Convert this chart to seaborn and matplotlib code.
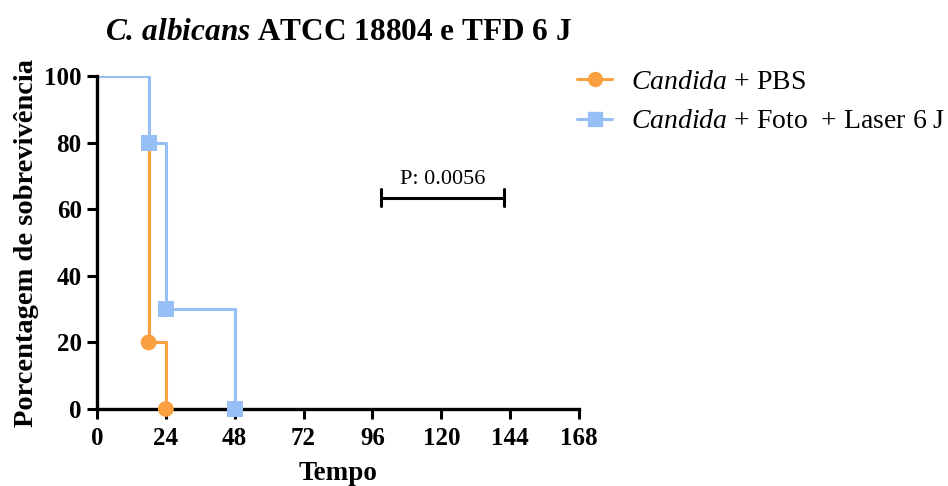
import matplotlib
matplotlib.use("Agg")
import matplotlib.pyplot as plt
from matplotlib.lines import Line2D
import seaborn as sns
import pandas as pd

sns.set_style("ticks")
plt.rcParams["font.family"] = ["Liberation Serif", "DejaVu Serif"]
plt.rcParams["mathtext.fontset"] = "custom"
plt.rcParams["mathtext.rm"] = "Liberation Serif"
plt.rcParams["mathtext.it"] = "Liberation Serif:italic"
plt.rcParams["mathtext.bf"] = "Liberation Serif:bold:italic"
for key in ["text.color", "axes.labelcolor", "xtick.color", "ytick.color"]:
    plt.rcParams[key] = "black"

# survival data (Kaplan-Meier steps)
pbs_time = [0, 18, 24]
pbs_surv = [100, 20, 0]
foto_time = [0, 18, 24, 48]
foto_surv = [100, 80, 30, 0]

labels = [r"$\it{Candida}$ + PBS", r"$\it{Candida}$ + Foto  + Laser 6 J"]
colors = ["#FBA040", "#96C0F5"]
x_ticks = [0, 24, 48, 72, 96, 120, 144, 168]
y_ticks = [0, 20, 40, 60, 80, 100]
p_text = "P: 0.0056"
p_range = [99, 142]
p_y = 63.5

fig = plt.figure(figsize=(9.48, 4.86), dpi=100)
ax = fig.add_axes([0.1023, 0.1584, 0.5085, 0.6852])

series = [(pbs_time, pbs_surv, "o"), (foto_time, foto_surv, "s")]
for (t, s, m), c in zip(series, colors):
    df = pd.DataFrame({"t": t, "s": s})
    sns.lineplot(data=df, x="t", y="s", drawstyle="steps-post", color=c,
                 lw=2.2, estimator=None, sort=False, ax=ax, legend=False)
    sns.scatterplot(data=df.iloc[1:], x="t", y="s", marker=m, color=c, s=130,
                    edgecolor="none", ax=ax, legend=False, zorder=5, clip_on=False)

ax.set_xlim(0, 168)
ax.set_ylim(0, 100)
ax.set_xticks(x_ticks)
ax.set_yticks(y_ticks)
for lbl in ax.get_xticklabels() + ax.get_yticklabels():
    lbl.set_fontweight("bold")
    lbl.set_fontsize(18)
ax.tick_params(width=2.2, length=7, color="black", pad=4)
ax.tick_params(axis="x", pad=6)
for side in ["left", "bottom"]:
    ax.spines[side].set_linewidth(2.4)
    ax.spines[side].set_color("black")
sns.despine(ax=ax)
ax.set_xlabel("Tempo", fontsize=19.5, fontweight="bold", labelpad=8)
ax.set_ylabel("Porcentagem de sobrevivência", fontsize=20.5, fontweight="bold", labelpad=4)
ax.set_title(r"$\mathbf{C.\,albicans}$ ATCC 18804 e TFD 6 J", fontsize=22.5,
             fontweight="bold", pad=26)

# p-value bracket
ax.plot(p_range, [p_y, p_y], color="black", lw=2.2, clip_on=False)
for xv in p_range:
    ax.plot([xv, xv], [p_y - 2.5, p_y + 2.5], color="black", lw=2.2)
ax.text(sum(p_range) / 2, p_y + 2.5, p_text, ha="center", va="bottom", fontsize=16)

handles = [Line2D([0], [0], color=c, lw=2.2, marker=m, markersize=10)
           for c, m in zip(colors, ["o", "s"])]
fig.legend(handles, labels, loc="upper left", bbox_to_anchor=(0.609, 0.857),
           frameon=False, fontsize=20, handlelength=1.25, handletextpad=0.7,
           labelspacing=0.5, borderaxespad=0, borderpad=0)

fig.savefig("out.png", dpi=100)
